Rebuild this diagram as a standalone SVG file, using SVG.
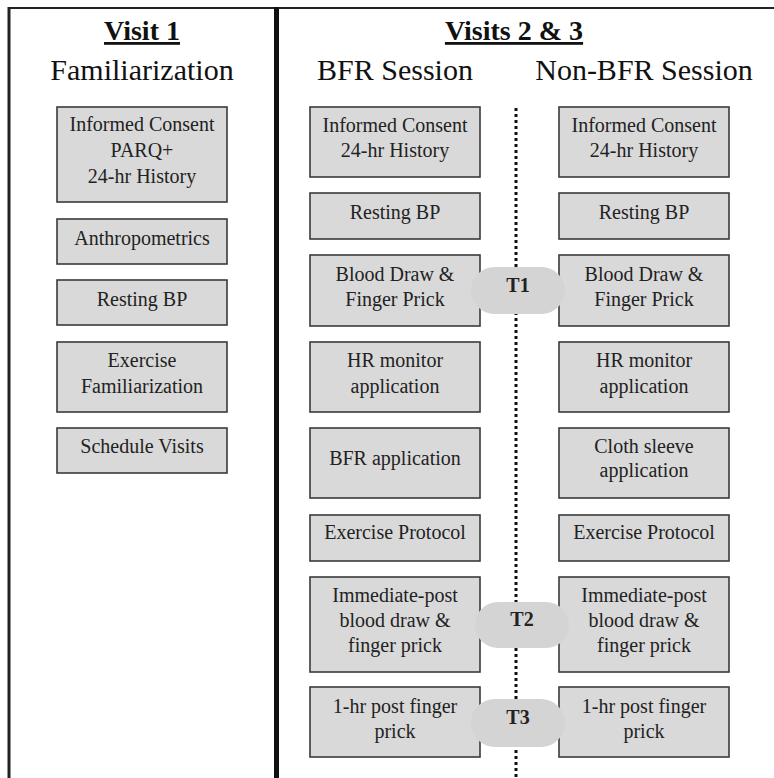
<svg xmlns="http://www.w3.org/2000/svg" width="774" height="778" viewBox="0 0 774 778">
<style>
.box{fill:#d9d9d9;stroke:#3a3a3a;stroke-width:1.6}
.t{font-family:"Liberation Serif","Times New Roman",serif;font-size:20px;fill:#222;text-anchor:middle}
.h{font-family:"Liberation Serif","Times New Roman",serif;font-size:28px;font-weight:bold;fill:#111;text-anchor:middle;text-decoration:underline}
.s{font-family:"Liberation Serif","Times New Roman",serif;font-size:30px;fill:#111;text-anchor:middle}
.pill{fill:#d4d4d4}
.pt{font-family:"Liberation Serif","Times New Roman",serif;font-size:20px;font-weight:bold;fill:#222;text-anchor:middle}
</style>
<rect width="774" height="778" fill="#fff"/>
<g id="frame">
<line x1="8" y1="8" x2="774" y2="8" stroke="#222" stroke-width="2"/>
<line x1="9" y1="7" x2="9" y2="778" stroke="#222" stroke-width="3"/>
<line x1="276.5" y1="7" x2="276.5" y2="778" stroke="#111" stroke-width="5"/>
</g>
<g id="headers">
<text class="h" x="142" y="40">Visit 1</text>
<text class="s" x="142" y="80">Familiarization</text>
<text class="h" x="514" y="40">Visits 2 &amp; 3</text>
<text class="s" x="395" y="80">BFR Session</text>
<text class="s" x="644" y="80">Non-BFR Session</text>
</g>
<g id="connectors">
<line x1="516" y1="108" x2="516" y2="778" stroke="#111" stroke-width="3" stroke-dasharray="3 3"/>
</g>
<g id="v1-consent"><rect class="box" x="57" y="107" width="170" height="95"/>
<text class="t" x="142" y="131">Informed Consent</text><text class="t" x="142" y="157">PARQ+</text><text class="t" x="142" y="183">24-hr History</text></g>
<g id="v1-anthro"><rect class="box" x="57" y="219" width="170" height="45"/><text class="t" x="142" y="245">Anthropometrics</text></g>
<g id="v1-bp"><rect class="box" x="57" y="280" width="170" height="45"/><text class="t" x="142" y="306">Resting BP</text></g>
<g id="v1-exfam"><rect class="box" x="57" y="342" width="170" height="70"/><text class="t" x="142" y="367">Exercise</text><text class="t" x="142" y="393">Familiarization</text></g>
<g id="v1-sched"><rect class="box" x="57" y="428" width="170" height="45"/><text class="t" x="142" y="453">Schedule Visits</text></g>

<g id="bfr-consent"><rect class="box" x="310" y="107" width="170" height="70"/><text class="t" x="395" y="132">Informed Consent</text><text class="t" x="395" y="157">24-hr History</text></g>
<g id="bfr-bp"><rect class="box" x="310" y="193" width="170" height="46"/><text class="t" x="395" y="219">Resting BP</text></g>
<g id="bfr-blood"><rect class="box" x="310" y="255" width="170" height="71"/><text class="t" x="395" y="281">Blood Draw &amp;</text><text class="t" x="395" y="306">Finger Prick</text></g>
<g id="bfr-hr"><rect class="box" x="310" y="342" width="170" height="70"/><text class="t" x="395" y="367">HR monitor</text><text class="t" x="395" y="393">application</text></g>
<g id="bfr-app"><rect class="box" x="310" y="428" width="170" height="70"/><text class="t" x="395" y="465">BFR application</text></g>
<g id="bfr-ex"><rect class="box" x="310" y="515" width="170" height="46"/><text class="t" x="395" y="539">Exercise Protocol</text></g>
<g id="bfr-post"><rect class="box" x="310" y="577" width="170" height="95"/><text class="t" x="395" y="602">Immediate-post</text><text class="t" x="395" y="627">blood draw &amp;</text><text class="t" x="395" y="652">finger prick</text></g>
<g id="bfr-1hr"><rect class="box" x="310" y="687" width="170" height="70"/><text class="t" x="395" y="713">1-hr post finger</text><text class="t" x="395" y="738">prick</text></g>

<g id="non-consent"><rect class="box" x="559" y="107" width="170" height="70"/><text class="t" x="644" y="132">Informed Consent</text><text class="t" x="644" y="157">24-hr History</text></g>
<g id="non-bp"><rect class="box" x="559" y="193" width="170" height="46"/><text class="t" x="644" y="219">Resting BP</text></g>
<g id="non-blood"><rect class="box" x="559" y="255" width="170" height="71"/><text class="t" x="644" y="281">Blood Draw &amp;</text><text class="t" x="644" y="306">Finger Prick</text></g>
<g id="non-hr"><rect class="box" x="559" y="342" width="170" height="70"/><text class="t" x="644" y="367">HR monitor</text><text class="t" x="644" y="393">application</text></g>
<g id="non-sleeve"><rect class="box" x="559" y="428" width="170" height="70"/><text class="t" x="644" y="453">Cloth sleeve</text><text class="t" x="644" y="477">application</text></g>
<g id="non-ex"><rect class="box" x="559" y="515" width="170" height="46"/><text class="t" x="644" y="539">Exercise Protocol</text></g>
<g id="non-post"><rect class="box" x="559" y="577" width="170" height="95"/><text class="t" x="644" y="602">Immediate-post</text><text class="t" x="644" y="627">blood draw &amp;</text><text class="t" x="644" y="652">finger prick</text></g>
<g id="non-1hr"><rect class="box" x="559" y="687" width="170" height="70"/><text class="t" x="644" y="713">1-hr post finger</text><text class="t" x="644" y="738">prick</text></g>

<g id="T1"><rect class="pill" x="471" y="267" width="94" height="47" rx="23.5"/><text class="pt" x="518" y="292">T1</text></g>
<g id="T2"><rect class="pill" x="475" y="602" width="94" height="46" rx="23"/><text class="pt" x="522" y="626">T2</text></g>
<g id="T3"><rect class="pill" x="471" y="699" width="94" height="48" rx="24"/><text class="pt" x="518" y="724">T3</text></g>
</svg>
